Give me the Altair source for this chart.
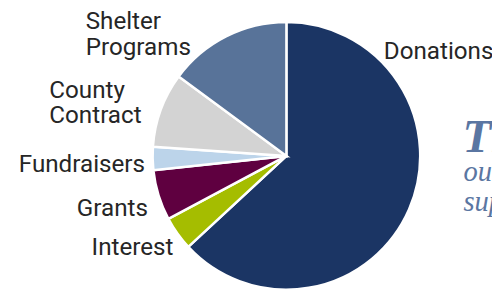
import altair as alt
import pandas as pd

categories = ["Donations", "Interest", "Grants", "Fundraisers", "County Contract", "Shelter Programs"]
shares = [63.1, 4.1, 6.1, 2.8, 9.0, 14.9]
colors = ["#1b3564", "#a5bd00", "#5f0040", "#bcd4ea", "#d3d3d3", "#587399"]

label_lines = [["Donations"], ["Interest"], ["Grants"], ["Fundraisers"],
               ["County", "Contract"], ["Shelter", "Programs"]]

side_heading = "Thank You"
side_lines = ["our generous", "supporters"]

df = pd.DataFrame({"category": categories, "share": shares, "order": list(range(len(categories)))})

CX, CY, R = 283, 148, 136

pie = alt.Chart(df).mark_arc(stroke="white", strokeWidth=2.5, outerRadius=R).encode(
    theta=alt.Theta("share:Q", stack=True),
    order=alt.Order("order:Q"),
    color=alt.Color("category:N", scale=alt.Scale(domain=categories, range=colors), legend=None),
    x=alt.value(CX),
    y=alt.value(CY),
)

# label layout (left x, first baseline y) in chart pixels
label_pos = {
    "Donations": (382, 50),
    "Interest": (85, 249),
    "Grants": (70, 209),
    "Fundraisers": (11, 164),
    "County Contract": (42, 89),
    "Shelter Programs": (79, 19),
}

layers = [pie]
for cat, lines in zip(categories, label_lines):
    lx, ly = label_pos[cat]
    layers.append(
        alt.Chart(pd.DataFrame({"t": [lines]})).mark_text(
            font="Roboto", fontSize=24.6, color="#262626", align="left", baseline="alphabetic",
            lineHeight=26,
        ).encode(text="t", x=alt.value(lx), y=alt.value(ly))
    )

layers.append(
    alt.Chart(pd.DataFrame({"t": [side_heading]})).mark_text(
        font="Liberation Serif", fontSize=48, fontStyle="italic", fontWeight="bold",
        color="#5a76a2", align="left", baseline="alphabetic",
    ).encode(text="t", x=alt.value(462), y=alt.value(144))
)
layers.append(
    alt.Chart(pd.DataFrame({"t": [side_lines]})).mark_text(
        font="Liberation Serif", fontSize=29, fontStyle="italic",
        color="#5a76a2", align="left", baseline="alphabetic", lineHeight=30,
    ).encode(text="t", x=alt.value(463), y=alt.value(174))
)

chart = alt.layer(*layers).properties(
    width=492, height=284, autosize=alt.AutoSizeParams(type="none"), padding=0
).configure_view(stroke=None)

chart.save("out.html", embed_options={"renderer": "svg", "actions": False})
